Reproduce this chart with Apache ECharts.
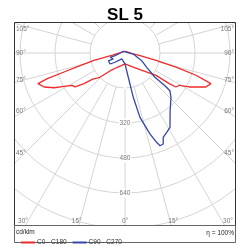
<!DOCTYPE html>
<html>
<head>
<meta charset="utf-8">
<script src="https://cdn.jsdelivr.net/npm/echarts@6/dist/echarts.min.js"></script>
<style>
  html, body { margin: 0; padding: 0; background: #fff; }
  #chart { width: 250px; height: 250px; }
</style>
</head>
<body>
<div id="chart"></div>
<script>
// intensity in cd/klm as [gamma, value], negative gamma = left half of the plane
var c0c180 = [[-180, 8], [-107, 14], [-87, 32], [-80, 58], [-77, 120], [-76.5, 146], [-74.5, 210],
  [-72.7, 292], [-71.7, 374], [-70.6, 422], [-67.2, 401], [-63.9, 361], [-61.4, 318], [-58.5, 283],
  [-55.8, 276], [-53.2, 234], [-51, 190], [-46, 160], [-40, 107], [-27, 72], [0, 50], [27, 70],
  [42, 102], [54.3, 175], [55.3, 246], [56.3, 280], [59.3, 289], [62.1, 332], [67.2, 401],
  [70.4, 417], [72.6, 340], [74.6, 242], [76.7, 146], [80.5, 70], [87, 30], [107, 14], [180, 8]];
var c90c270 = [[0, 50], [7.7, 112], [10.6, 206], [13.1, 302], [17.2, 388], [19.5, 433], [20.7, 453],
  [22.8, 451], [24.4, 423], [27.7, 410], [31.2, 397], [38, 335], [46.1, 292], [50, 268], [50.7, 236],
  [51, 176], [56.6, 119], [65.3, 84], [83, 38], [-135, 11], [-87, 23], [-75, 47], [-74, 71],
  [-63, 60], [-65, 84], [-53.7, 85], [-47, 62], [-28.8, 31], [0, 50]];
var seriesNames = ['C0 - C180', 'C90 - C270'];
var sideAngles = [105, 90, 75, 60, 45];
var bottomAngles = [-30, -15, 0, 15, 30];
var radiusLabels = [320, 480, 640];
var radiusMin = 160, radiusMax = 960, radiusStep = 160;

var cx = 125, cy = 53;
var frame = { x: 14, y: 22, w: 222, h: 204 };
var labelFont = 'Liberation Sans, Arial, sans-serif';

function toPolar(arr) {
  return arr.map(function (p) {
    var v = p[0] <= 0 ? -p[0] : 360 - p[0];
    return [p[1], v];
  });
}

var graphics = [
  // mask everything outside the plot frame
  { type: 'rect', z: 50, shape: { x: 0, y: 0, width: 250, height: frame.y }, style: { fill: '#fff' } },
  { type: 'rect', z: 50, shape: { x: 0, y: 0, width: frame.x, height: 250 }, style: { fill: '#fff' } },
  { type: 'rect', z: 50, shape: { x: frame.x + frame.w, y: 0, width: 20, height: 250 }, style: { fill: '#fff' } },
  { type: 'rect', z: 50, shape: { x: 0, y: frame.y + frame.h, width: 250, height: 30 }, style: { fill: '#fff' } },
  { type: 'rect', z: 55, shape: { x: frame.x + 0.5, y: frame.y + 0.5, width: frame.w - 1, height: frame.h - 1 },
    style: { fill: null, stroke: '#333', lineWidth: 1 } },
  { type: 'rect', z: 55, shape: { x: frame.x + 0.5, y: frame.y + frame.h - 0.5, width: frame.w - 1, height: 17 },
    style: { fill: null, stroke: '#666', lineWidth: 1 } },
  { type: 'text', z: 60, left: 16, top: 229, style: { text: 'cd/klm', fill: '#222', font: '6.5px ' + labelFont } },
  { type: 'text', z: 60, right: 16, top: 230, style: { text: 'η = 100%', fill: '#222', font: '6.5px ' + labelFont } }
];

sideAngles.forEach(function (a) {
  var y = cy + 100 * Math.cos(a * Math.PI / 180) / Math.sin(a * Math.PI / 180);
  y = Math.max(y, 29);
  [[16, 'left'], [234, 'right']].forEach(function (s) {
    graphics.push({ type: 'text', z: 60, x: s[0], y: y,
      style: { text: a + '°', fill: '#777', font: '6.5px ' + labelFont, align: s[1], verticalAlign: 'middle' } });
  });
});
bottomAngles.forEach(function (a) {
  var x = cx + 180 * Math.tan(a * Math.PI / 180);
  x = Math.min(Math.max(x, 23), 228);
  graphics.push({ type: 'text', z: 60, x: x, y: 221,
    style: { text: Math.abs(a) + '°', fill: '#777', font: '6.5px ' + labelFont, align: 'center', verticalAlign: 'middle' } });
});

var chart = echarts.init(document.getElementById('chart'));
var gridLine = { color: '#d4d4d4', width: 1 };
var option = {
  animation: false,
  title: {
    text: 'SL 5', left: 'center', top: 2, z: 60,
    textStyle: { fontSize: 17, fontWeight: 'bold', color: '#000', fontFamily: labelFont }
  },
  legend: {
    z: 60, left: 16, top: 234, itemWidth: 14, itemHeight: 2, itemGap: 6, icon: 'rect',
    data: seriesNames,
    textStyle: { fontSize: 6.5, color: '#333', fontFamily: labelFont, padding: [0, 0, 0, -3] }
  },
  polar: [
    { center: [cx, cy], radius: [35, 210] },
    { center: [cx, cy], radius: 210 }
  ],
  angleAxis: [
    { polarIndex: 0, type: 'value', min: 0, max: 360, interval: 15, startAngle: 270, clockwise: true,
      axisLine: { show: false }, axisTick: { show: false }, axisLabel: { show: false },
      splitLine: { show: true, lineStyle: gridLine } },
    { polarIndex: 1, type: 'value', min: 0, max: 360, startAngle: 270, clockwise: true, show: false }
  ],
  radiusAxis: [
    { polarIndex: 0, type: 'value', min: radiusMin, max: radiusMax, interval: radiusStep,
      axisLine: { show: false }, axisTick: { show: false },
      splitLine: { show: true, lineStyle: gridLine },
      axisLabel: {
        show: true, margin: 0, align: 'center', verticalAlign: 'middle', color: '#777',
        fontSize: 6.5, fontFamily: labelFont, backgroundColor: '#fff', padding: [1, 1],
        formatter: function (v) { return radiusLabels.indexOf(v) >= 0 ? String(v) : ''; }
      } },
    { polarIndex: 1, type: 'value', min: 0, max: radiusMax, show: false }
  ],
  series: [
    { name: seriesNames[0], type: 'line', coordinateSystem: 'polar', polarIndex: 1, showSymbol: false,
      clip: false, color: '#ee2b2b', lineStyle: { width: 1.3 }, data: toPolar(c0c180) },
    { name: seriesNames[1], type: 'line', coordinateSystem: 'polar', polarIndex: 1, showSymbol: false,
      clip: false, color: '#3347a8', lineStyle: { width: 1.3 }, data: toPolar(c90c270) }
  ],
  graphic: graphics
};
chart.setOption(option);
</script>
</body>
</html>
